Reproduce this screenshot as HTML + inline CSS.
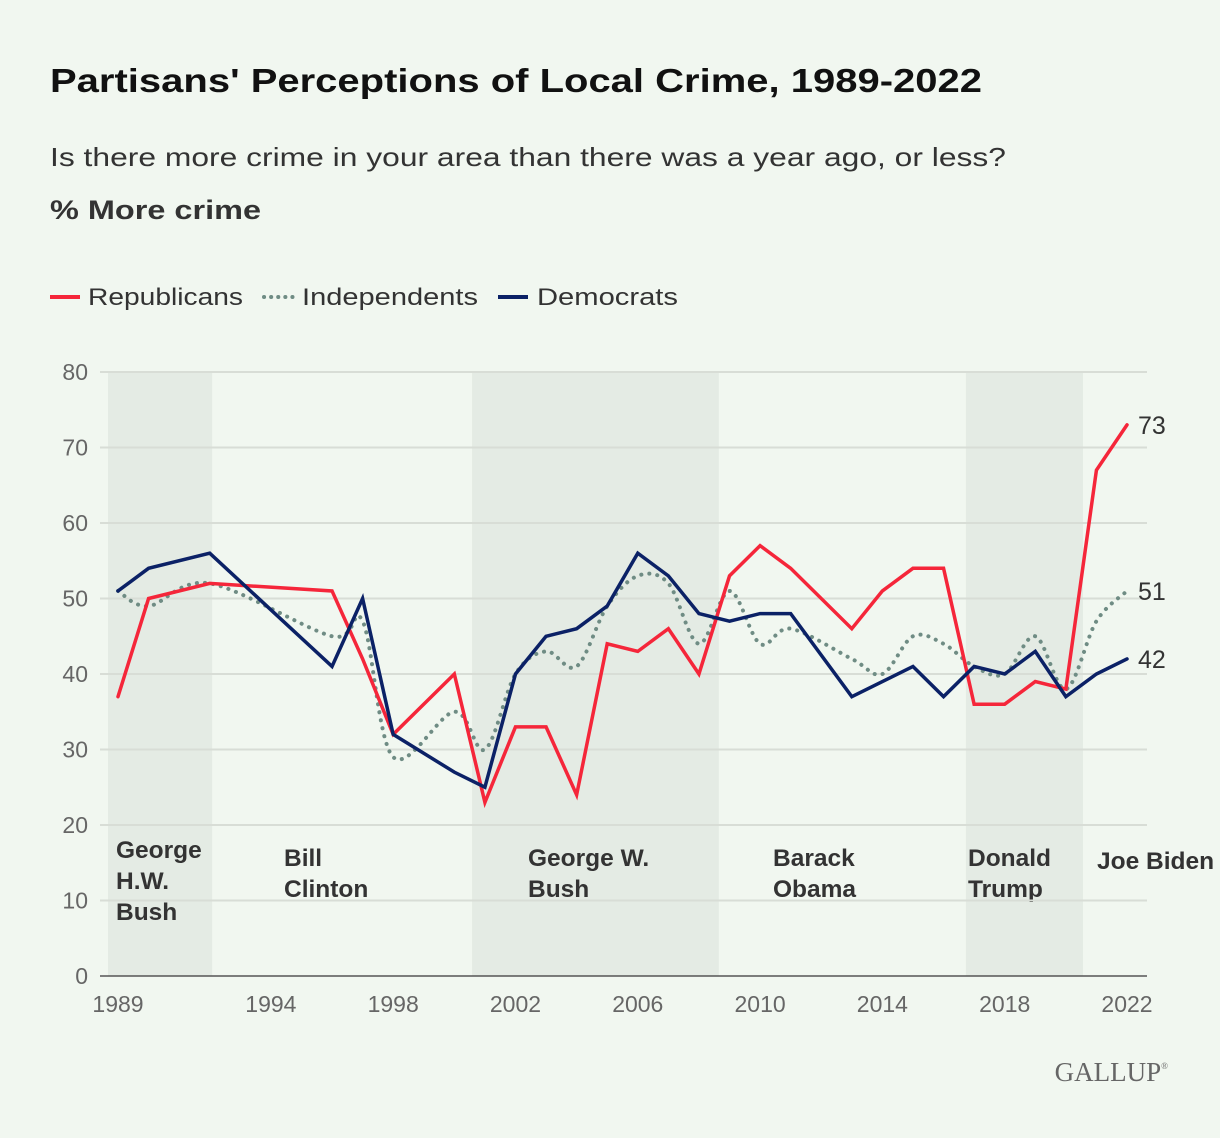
<!DOCTYPE html>
<html><head><meta charset="utf-8"><style>
html,body{margin:0;padding:0;background:#f1f7f0;overflow:hidden;}
svg{display:block;font-family:"Liberation Sans",sans-serif;}
</style></head><body>
<svg id="chart" width="1220" height="1138" viewBox="0 0 1220 1138" xmlns="http://www.w3.org/2000/svg">
<rect width="1220" height="1138" fill="#f1f7f0"/>
<text x="50" y="92" font-size="33" font-weight="bold" fill="#111" textLength="932" lengthAdjust="spacingAndGlyphs">Partisans' Perceptions of Local Crime, 1989-2022</text>
<text x="50" y="166" font-size="26" fill="#333" textLength="956" lengthAdjust="spacingAndGlyphs">Is there more crime in your area than there was a year ago, or less?</text>
<text x="50" y="219" font-size="27" font-weight="bold" fill="#333" textLength="211" lengthAdjust="spacingAndGlyphs">% More crime</text>
<g>
<g><line x1="50" y1="297" x2="80" y2="297" stroke="#f5263a" stroke-width="4"/><text x="88" y="305" font-size="24" fill="#333" textLength="155" lengthAdjust="spacingAndGlyphs">Republicans</text></g>
<g><line x1="264" y1="297" x2="294" y2="297" stroke="#6f8c84" stroke-width="4" stroke-dasharray="0.1 7" stroke-linecap="round"/><text x="302" y="305" font-size="24" fill="#333" textLength="176" lengthAdjust="spacingAndGlyphs">Independents</text></g>
<g><line x1="498" y1="297" x2="528" y2="297" stroke="#0b2166" stroke-width="4"/><text x="537" y="305" font-size="24" fill="#333" textLength="141" lengthAdjust="spacingAndGlyphs">Democrats</text></g>
</g>
<g id="plot"></g>
<text x="1168" y="1081" font-family="Liberation Serif, serif" font-size="27" fill="#666" text-anchor="end">GALLUP<tspan font-size="9" dy="-12">®</tspan></text>
</svg>
<script>
const years = [1989,1990,1992,1996,1997,1998,2000,2001,2002,2003,2004,2005,2006,2007,2008,2009,2010,2011,2013,2014,2015,2016,2017,2018,2019,2020,2021,2022];
const republicans = [37,50,52,51,42,32,40,23,33,33,24,44,43,46,40,53,57,54,46,51,54,54,36,36,39,38,67,73];
const independents = [51,49,52,45,47,29,35,30,40,43,41,49,53,52,44,51,44,46,42,40,45,44,41,40,45,38,47,51];
const democrats = [51,54,56,41,50,32,27,25,40,45,46,49,56,53,48,47,48,48,37,39,41,37,41,40,43,37,40,42];
const yTicks = [0,10,20,30,40,50,60,70,80];
const xTicks = [1989,1994,1998,2002,2006,2010,2014,2018,2022];
const eraNames = ["George|H.W.|Bush","Bill|Clinton","George W.|Bush","Barack|Obama","Donald|Trump","Joe Biden"];
const eraStart = [1988.67,1992.08,2000.58,2008.65,2016.73,2020.56];
const eraEnd = [1992.08,2000.58,2008.65,2016.73,2020.56,2022.8];
const eraShaded = [true,false,true,false,true,false];
const eraLabelX = [116,284,528,773,968,1097];

const NS="http://www.w3.org/2000/svg";
const plot=document.getElementById('plot');
const L=100,R=1147,T=372,B=976;
const x=y=>118+(y-1989)*(1127-118)/33;
const yv=v=>B-v*(B-T)/80;
function mk(tag,attrs,parent){const e=document.createElementNS(NS,tag);for(const k in attrs)e.setAttribute(k,attrs[k]);(parent||plot).appendChild(e);return e;}

eraNames.forEach((name,i)=>{
  const x0=Math.max(x(eraStart[i]),108), x1=Math.min(x(eraEnd[i]),R);
  if(eraShaded[i]){const r=mk('rect',{x:x0,y:T,width:x1-x0,height:B-T,fill:'#e4ebe4'});
  
  }
  const lines=name.split('|');
  const t=mk('text',{x:eraLabelX[i],y:lines.length>2?858:lines.length>1?866:869,'font-size':24.5,'font-weight':'bold',fill:'#333'});
  
  
  lines.forEach((s,j)=>{const ts=mk('tspan',{x:eraLabelX[i],dy:j?31:0},t);ts.textContent=s;});
});
yTicks.forEach(v=>{
  const g=mk('line',{x1:L,x2:R,y1:yv(v),y2:yv(v),stroke:v?'#d8ddd6':'#555','stroke-width':v?2:1.5});
  
  
  const t=mk('text',{x:88,y:yv(v)+8,'font-size':23,fill:'#666','text-anchor':'end'});
  
  
  t.textContent=v;
});
xTicks.forEach(yr=>{
  const t=mk('text',{x:x(yr),y:1012,'font-size':23,fill:'#666','text-anchor':'middle'});
  
  
  t.textContent=yr;
});
function smooth(pts){let d='M'+pts[0].join(',');for(let i=0;i<pts.length-1;i++){const p0=pts[i-1]||pts[i],p1=pts[i],p2=pts[i+1],p3=pts[i+2]||p2;const c1=[p1[0]+(p2[0]-p0[0])/6,p1[1]+(p2[1]-p0[1])/6],c2=[p2[0]-(p3[0]-p1[0])/6,p2[1]-(p3[1]-p1[1])/6];d+='C'+c1+' '+c2+' '+p2;}return d;}
function series(vals,color,name,dotted){
  const pts=vals.map((v,i)=>[x(years[i]),yv(v)]);
  const d=dotted?smooth(pts):'M'+pts.map(p=>p.join(',')).join('L');
  const p=mk('path',{d:d,fill:'none',stroke:color,'stroke-width':dotted?4:3.5,'stroke-linejoin':'miter','stroke-linecap':'round','stroke-dasharray':dotted?'0.1 8':'none'});
  
  
  const last=vals[vals.length-1];
  const t=mk('text',{x:1138,y:yv(last)+9,'font-size':25,fill:'#333'});
  
  
  t.textContent=last;
}
series(independents,'#6f8c84','independents',true);
series(republicans,'#f5263a','republicans',false);
series(democrats,'#0b2166','democrats',false);
</script>
</body></html>
